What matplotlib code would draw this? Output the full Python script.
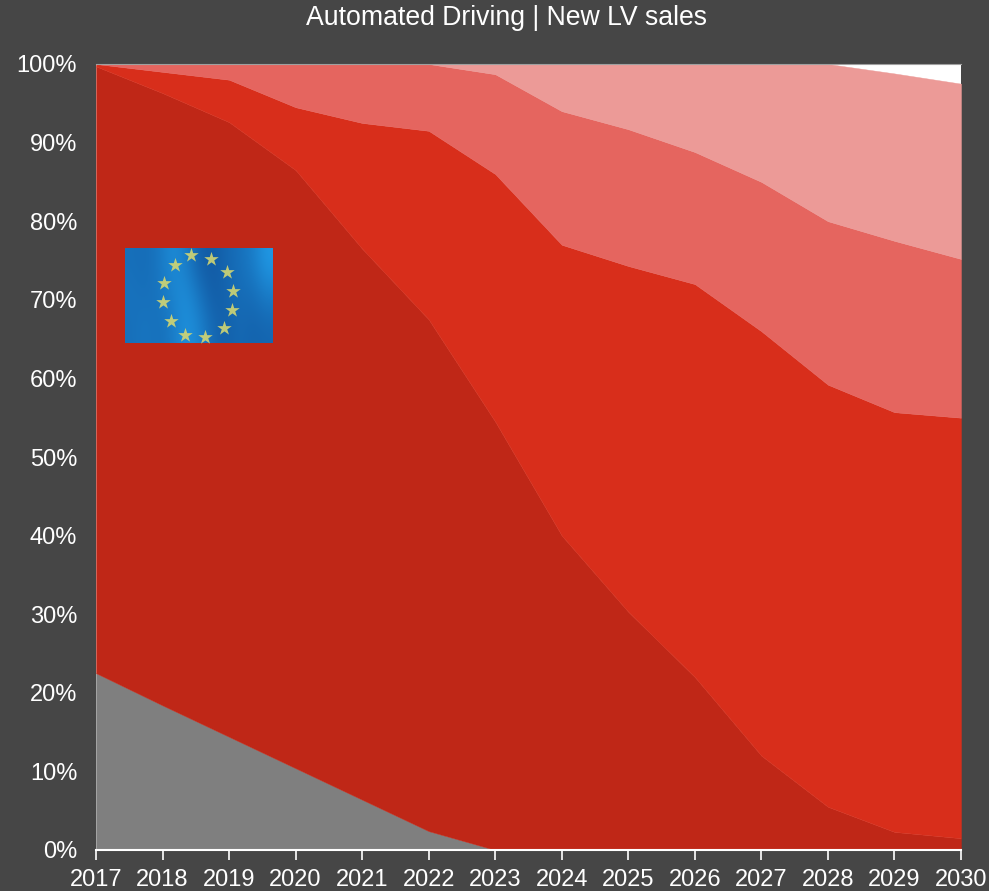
import numpy as np
import matplotlib
matplotlib.use('Agg')
import matplotlib.pyplot as plt
from matplotlib.colors import LinearSegmentedColormap

plt.rcParams['font.family'] = ['Liberation Sans', 'DejaVu Sans']

years = list(range(2017, 2031))

# Share of each level (%), bottom to top
level_grey = [22.5, 18.4, 14.4, 10.4, 6.4, 2.4, 0, 0, 0, 0, 0, 0, 0, 0]
level_dark = [77.2, 77.9, 78.2, 76.1, 70.1, 65.1, 54.5, 40, 30.3, 22, 12, 5.5, 2.3, 1.5]
level_red = [0.3, 2.7, 5.4, 8.0, 16.0, 24.0, 31.5, 37, 44.0, 50, 54, 53.7, 53.4, 53.5]
level_salmon = [0, 1.0, 2.0, 5.5, 7.5, 8.5, 12.7, 17, 17.4, 16.8, 19, 20.8, 21.8, 20.2]
level_pink = [0, 0, 0, 0, 0, 0, 1.3, 6, 8.3, 11.2, 15, 20, 21.3, 22.3]

colors = ['#7f7f7f', '#bf2717', '#d82e1b', '#e5655f', '#ec9a97']

# EU flag details, pixel positions inside the flag picture (148x95)
flag_dark, flag_light = '#125aa4', '#2098e4'
flag_waves = [[.35, .30, .45, .80, .60, .10, .00, .20, .35, .55, 1.0],
              [.40, .35, .40, .65, .85, .45, .05, .15, .30, .30, .55],
              [.35, .45, .35, .50, .90, .70, .25, .10, .25, .15, .20]]
star_x = [66, 86, 102, 108, 107, 99, 80, 60, 46, 38, 39, 50]
star_y = [7, 11, 24, 43, 62, 80, 89, 87, 73, 54, 35, 17]

W, H = 989, 891
fig = plt.figure(figsize=(W / 100, H / 100), dpi=100, facecolor='#464646')
ax = fig.add_axes([96 / W, 1 - 850 / H, (961 - 96) / W, (850 - 64) / H])
ax.set_facecolor('white')

ax.stackplot(years, level_grey, level_dark, level_red, level_salmon, level_pink,
             colors=colors, edgecolor='face', linewidth=0.3)

ax.set_xlim(2017, 2030)
ax.set_ylim(0, 100)
ax.set_xticks(years)
ax.set_yticks(range(0, 101, 10))
ax.set_yticklabels([f'{v}%' for v in range(0, 101, 10)])
ax.tick_params(axis='x', colors='white', labelsize=17, length=7, width=1.2, pad=6.7)
ax.tick_params(axis='y', colors='white', labelsize=17, length=0, pad=13.5)

for side in ['left', 'right']:
    ax.spines[side].set_visible(False)
ax.spines['top'].set_color('#a0a0a0')
ax.spines['top'].set_linewidth(0.8)
ax.spines['bottom'].set_color('white')
ax.spines['bottom'].set_linewidth(1.5)

fig.text(506 / W, 1 - 18 / H, 'Automated Driving | New LV sales', color='white',
         fontsize=19.2, ha='center', va='center')

# Flag sits on top of the dark red area
flag = fig.add_axes([125 / W, 1 - 343 / H, 148 / W, 95 / H])
cmap = LinearSegmentedColormap.from_list('flag', [flag_dark, flag_light])
flag.imshow(flag_waves, cmap=cmap, aspect='auto', extent=[0, 148, 95, 0],
            interpolation='bicubic', vmin=0, vmax=1)
flag.scatter(star_x, star_y, marker='*', s=120, color='#d2d672', linewidth=0, alpha=0.9)
flag.set_xlim(0, 148)
flag.set_ylim(95, 0)
flag.axis('off')

fig.savefig('out.png', dpi=100, facecolor=fig.get_facecolor())
